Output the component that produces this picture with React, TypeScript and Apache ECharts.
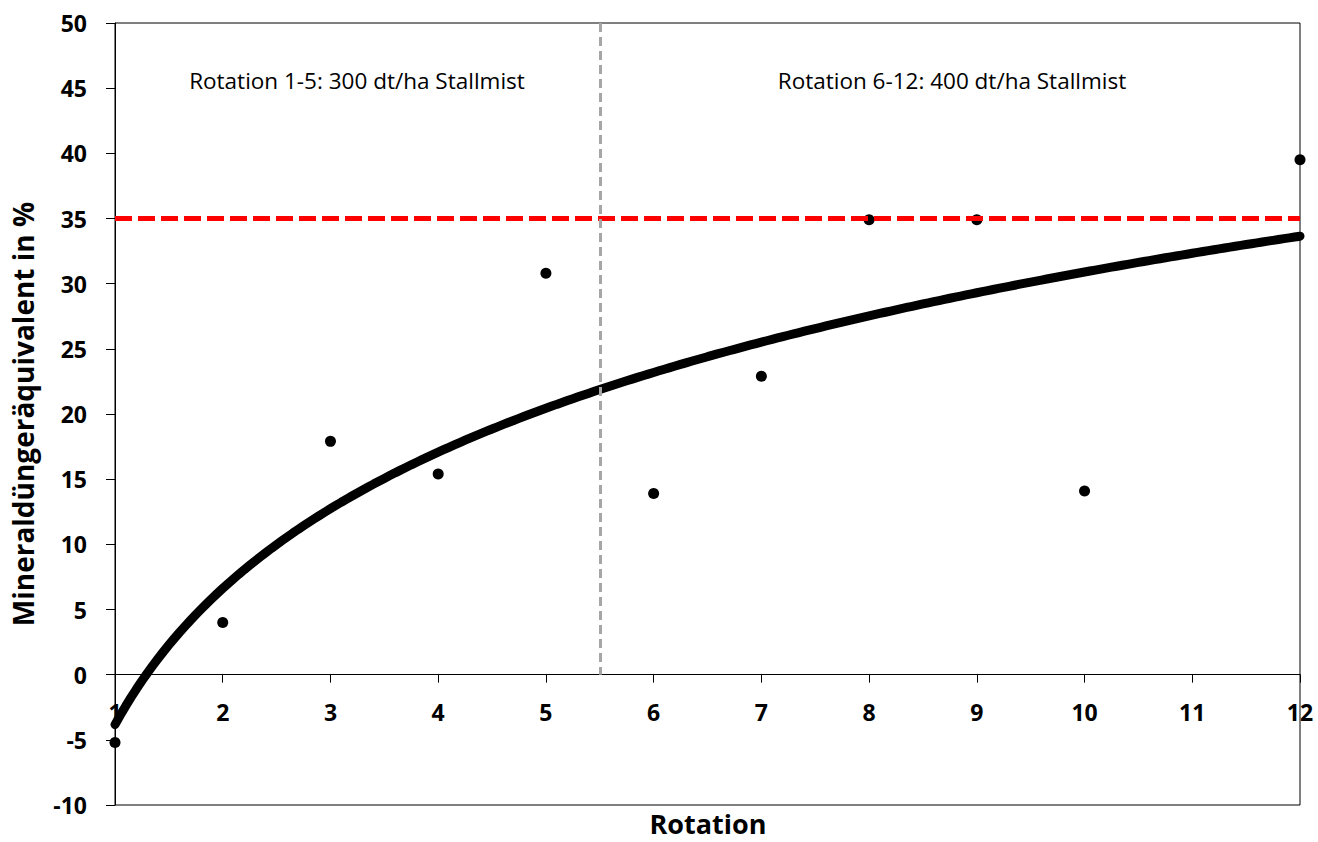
import React, { useEffect, useRef } from "react";
import * as echarts from "echarts";

const rotations = [1, 2, 3, 4, 5, 6, 7, 8, 9, 10, 12];
const values = [-5.2, 4.0, 17.9, 15.4, 30.8, 13.9, 22.9, 34.9, 34.9, 14.1, 39.5];
const threshold = 35;
const splitAt = 5.5;
const yTicks = { min: -10, max: 50, interval: 5 };
const xTicks = { min: 1, max: 12, interval: 1 };
const labelLeft = "Rotation 1-5: 300 dt/ha Stallmist";
const labelRight = "Rotation 6-12: 400 dt/ha Stallmist";
const xTitle = "Rotation";
const yTitle = "Mineraldüngeräquivalent in %";

// logarithmic trendline (least squares on ln(x)), as in the spreadsheet
function logFit(xs: number[], ys: number[]) {
  const lx = xs.map((x) => Math.log(x));
  const n = xs.length;
  const mx = lx.reduce((a, b) => a + b, 0) / n;
  const my = ys.reduce((a, b) => a + b, 0) / n;
  let sxy = 0, sxx = 0;
  for (let i = 0; i < n; i++) {
    sxy += (lx[i] - mx) * (ys[i] - my);
    sxx += (lx[i] - mx) * (lx[i] - mx);
  }
  const a = sxy / sxx;
  return { a, b: my - a * mx };
}

const FONT = "'Open Sans', 'DejaVu Sans', sans-serif";
const W = 1318, H = 842;
const GRID = { left: 115, right: 18, top: 23, bottom: 37 };

export default function App() {
  const ref = useRef<HTMLDivElement>(null);
  useEffect(() => {
    if (!ref.current) return;
    const chart = echarts.init(ref.current, null, { renderer: "svg" });
    const fit = logFit(rotations, values);
    const trend: number[][] = [];
    const x0 = rotations[0], x1 = rotations[rotations.length - 1];
    const steps = 220;
    for (let i = 0; i <= steps; i++) {
      const x = x0 + ((x1 - x0) * i) / steps;
      trend.push([x, fit.a * Math.log(x) + fit.b]);
    }
    const gridH = H - GRID.top - GRID.bottom;
    const zeroOffset = -gridH * (0 - yTicks.min) / (yTicks.max - yTicks.min);
    chart.setOption({
      animation: false,
      grid: { ...GRID, outerBoundsMode: "none", containLabel: false, show: true, borderColor: "#000", borderWidth: 1, backgroundColor: "transparent" },
      xAxis: {
        type: "value",
        position: "bottom",
        offset: zeroOffset,
        min: xTicks.min,
        max: xTicks.max,
        interval: xTicks.interval,
        axisLine: { onZero: false, lineStyle: { color: "#000", width: 1 } },
        axisTick: { show: true, inside: false, length: 8, lineStyle: { color: "#000" } },
        axisLabel: { color: "#000", fontFamily: FONT, fontWeight: "bold", fontSize: 23, margin: 26, showMinLabel: true, showMaxLabel: true },
        splitLine: { show: false },
      },
      yAxis: {
        type: "value",
        min: yTicks.min,
        max: yTicks.max,
        interval: yTicks.interval,
        axisLine: { show: true, onZero: false, lineStyle: { color: "#000", width: 1 } },
        axisTick: { show: true, inside: false, length: 9, lineStyle: { color: "#000" } },
        axisLabel: { color: "#000", fontFamily: FONT, fontWeight: "bold", fontSize: 23, margin: 28 },
        splitLine: { show: false },
        name: yTitle,
        nameLocation: "middle",
        nameRotate: 90,
        nameGap: 78,
        nameTextStyle: { color: "#000", fontFamily: FONT, fontWeight: "bold", fontSize: 28 },
      },
      graphic: [
        { type: "text", x: 708, y: 823, style: { text: xTitle, fill: "#000", font: `bold 27px ${FONT}`, lineHeight: 28, textAlign: "center", textVerticalAlign: "middle" } },
        { type: "text", x: 357, y: 80, style: { text: labelLeft, fill: "#000", font: `22.5px ${FONT}`, textAlign: "center", textVerticalAlign: "middle" } },
        { type: "text", x: 952, y: 80, style: { text: labelRight, fill: "#000", font: `22.5px ${FONT}`, textAlign: "center", textVerticalAlign: "middle" } },
      ],
      series: [
        {
          type: "line",
          data: [],
          z: 1,
          silent: true,
          markLine: {
            silent: true,
            symbol: "none",
            label: { show: false },
            data: [
              { yAxis: threshold, lineStyle: { color: "#FF0000", width: 5, type: [17, 6] } },
              [
                { coord: [splitAt, yTicks.max], lineStyle: { color: "#A6A6A6", width: 3, type: [9, 5] } },
                { coord: [splitAt, 0] },
              ],
            ],
          },
        },
        {
          type: "line",
          data: trend,
          z: 2,
          showSymbol: false,
          smooth: false,
          lineStyle: { color: "#000", width: 9, cap: "round" },
          silent: true,
        },
        {
          type: "scatter",
          data: rotations.map((x, i) => [x, values[i]]),
          z: 3,
          symbolSize: 11,
          itemStyle: { color: "#000", opacity: 1 },
        },
      ],
    });
    return () => chart.dispose();
  }, []);
  return <div ref={ref} style={{ width: W, height: H, position: "absolute", left: 0, top: 0 }} />;
}
